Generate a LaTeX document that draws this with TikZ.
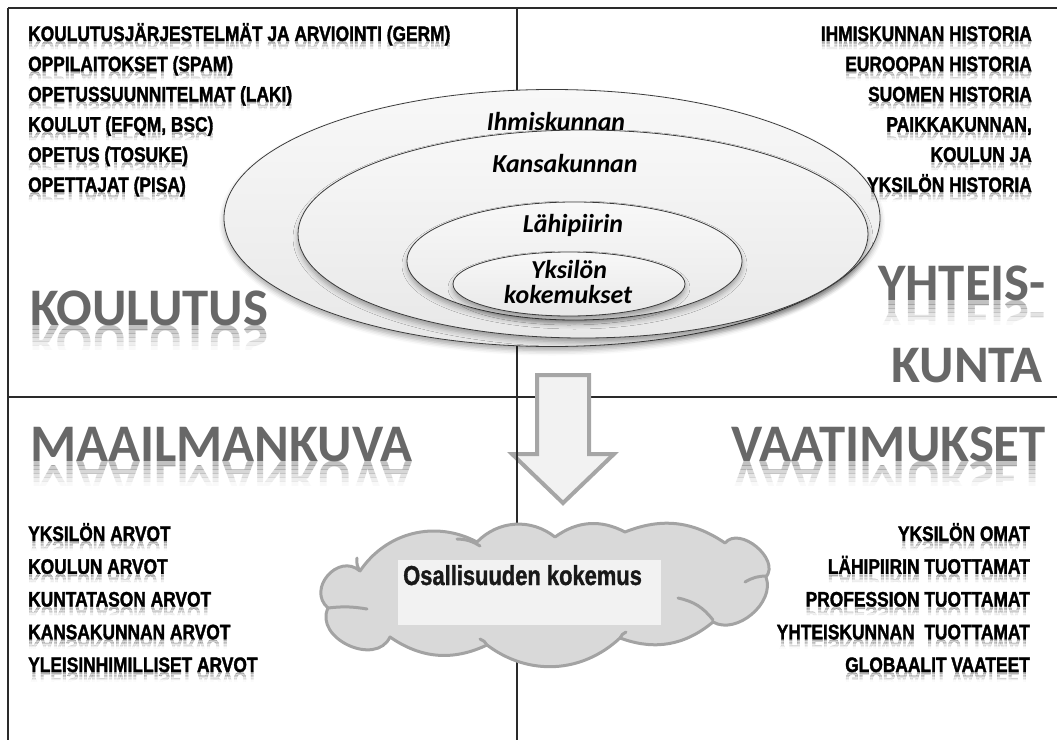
\documentclass[tikz,border=0pt]{standalone}
\usepackage{fontspec}
\newfontfamily\listfont{Liberation Sans Bold}[FakeStretch=0.83, FakeBold=1.6]
\newfontfamily\cloudfont{Liberation Sans Bold}[FakeStretch=0.80, FakeBold=1.2]
\newfontfamily\headfont{Carlito Bold}
\newfontfamily\ringfont{Carlito Bold Italic}
\usetikzlibrary{shapes.geometric, shadows.blur}

\definecolor{framec}{HTML}{2A2A2A}
\definecolor{headgray}{HTML}{686868}
\definecolor{arrowedge}{HTML}{A6A6A6}
\definecolor{arrowfill}{HTML}{F2F2F2}
\definecolor{cloudfill}{HTML}{D9D9D9}
\definecolor{cloudedge}{HTML}{A3A3A3}
\definecolor{boxfill}{HTML}{F2F2F2}
\definecolor{ringedge}{HTML}{3C3C3C}
\definecolor{ringtop}{HTML}{F8F8F8}
\definecolor{ringbottom}{HTML}{E8E8E8}

% mirrored copy under a line of text, fading out in six bands
% #1 name, #2 x, #3 baseline y, #4 anchor, #5 style, #6 depth, #7 peak opacity, #8 text
\newcommand\mirrorline[8]{%
  \foreach \k in {0,...,5}{%
    \pgfmathsetmacro\bandop{#7*(1-(\k+0.5)/6)}%
    \begin{scope}
      \clip (#2-620,#3+\k*#6/6) rectangle (#2+620,#3+\k*#6/6+#6/6);
      \node[#5, anchor=#4, yscale=-1, transform shape, opacity=\bandop] (#1-\k) at (#2,#3) {#8};
    \end{scope}
  }}

\tikzset{
  frame/.style={draw=framec, line width=1.5bp},
  listtxt/.style={font=\listfont\fontsize{21}{25}\selectfont, inner sep=0pt, text=black},
  listrefl/.style={listtxt, text=black!70},
  headtxt/.style={font=\headfont\fontsize{53}{60}\selectfont, inner sep=0pt, text=headgray},
  headrefl/.style={headtxt, text=headgray},
  ring/.style={ellipse, draw=ringedge, line width=0.8bp, inner sep=0pt,
    top color=ringtop, bottom color=ringbottom,
    blur shadow={shadow xshift=0bp, shadow yshift=-4bp, shadow blur radius=5bp, shadow opacity=35}},
  ringlabel/.style={font=\ringfont\fontsize{26}{30}\selectfont, inner sep=0pt, text=black},
  blockarrow/.style={draw=arrowedge, fill=arrowfill, line width=4bp, line join=miter},
  cloudshape/.style={draw=cloudedge, fill=cloudfill, line width=3bp, line join=round},
  cloudarc/.style={draw=cloudedge, line width=3bp, line cap=round},
  cloudtxt/.style={font=\cloudfont\fontsize{27.5}{32}\selectfont, inner sep=0pt, text=black!90},
}

\begin{document}
\begin{tikzpicture}[x=1bp, y=-1bp]
\useasboundingbox (0,0) rectangle (1057,740);

% quadrant frame
\draw[frame] (8,8) -- (1057,8);
\draw[frame] (8,8) -- (8,740);
\draw[frame] (8,397) -- (1057,397);

% block arrow pointing down into the cloud
\draw[blockarrow] (537,375) -- (589,375) -- (589,454) -- (614,454) -- (563,503)
  -- (512,454) -- (537,454) -- cycle;

% central divider
\draw[frame] (517,8) -- (517,740);

% nested circles of experience
\node[ring, minimum width=656bp, minimum height=257bp] (humankind) at (552,218) {};
\node[ring, minimum width=570bp, minimum height=208bp] (nation) at (583,234) {};
\node[ring, minimum width=335bp, minimum height=118bp] (near) at (574.5,261) {};
\node[ring, minimum width=232bp, minimum height=64bp] (self) at (569,284) {};

\node[ringlabel, anchor=base] (humankindlbl) at (556,130) {Ihmiskunnan};
\node[ringlabel, anchor=base] (nationlbl) at (565,172) {Kansakunnan};
\node[ringlabel, anchor=base] (nearlbl) at (573,232) {Lähipiirin};
\node[ringlabel, anchor=base] (selflbl1) at (569,278) {Yksilön};
\node[ringlabel, anchor=base] (selflbl2) at (568,303) {kokemukset};

% cloud
\draw[cloudshape] (328,608) to[bend left=90, looseness=1.5] (360,571)
  to[bend left=42] (477,542)
  to[bend left=42] (555,537)
  to[bend left=32] (625,532)
  to[bend left=28] (725,543)
  to[bend left=90, looseness=1.1] (766,577)
  to[bend left=70] (713,622)
  to[bend left=30] (620,638)
  to[bend left=40] (487,645)
  to[bend left=30] (390,637)
  to[bend left=90, looseness=1.25] (328,608) -- cycle;
\draw[cloudarc] (328,608) to[bend left=8] (367,609);
\draw[cloudarc] (360,571) to[bend left=20] (357,558);
\draw[cloudarc] (457,539) to[bend left=15] (480,546);
\draw[cloudarc] (745,582) to[bend left=15] (767,576);
\draw[cloudarc] (678,598) to[bend left=20] (713,620);
\draw[cloudarc] (620,638) to[bend left=20] (626,632);
\draw[cloudarc] (487,645) to[bend right=20] (480,639);

\node[fill=boxfill, minimum width=263bp, minimum height=65bp, inner sep=0pt] (cbox) at (529.5,592.5) {};
\node[cloudtxt, anchor=base west] (ctext) at (403,585) {Osallisuuden kokemus};

% quadrant titles
\mirrorline{koulutusr}{30}{325}{base west}{headrefl}{24}{0.45}{KOULUTUS}
\node[headtxt, anchor=base west] (koulutus) at (30,325) {KOULUTUS};
\mirrorline{maailmar}{30}{461}{base west}{headrefl}{24}{0.45}{MAAILMANKUVA}
\node[headtxt, anchor=base west] (maailma) at (30,461) {MAAILMANKUVA};
\mirrorline{yhteisr}{1046}{300}{base east}{headrefl}{24}{0.45}{YHTEIS-}
\node[headtxt, anchor=base east] (yhteis) at (1046,300) {YHTEIS-};
\node[headtxt, anchor=base east] (kunta) at (1043,382) {KUNTA};
\mirrorline{vaatir}{1046}{461}{base east}{headrefl}{24}{0.45}{VAATIMUKSET}
\node[headtxt, anchor=base east] (vaati) at (1046,461) {VAATIMUKSET};

% lists
\foreach \txt [count=\i] in {KOULUTUSJÄRJESTELMÄT JA ARVIOINTI (GERM), OPPILAITOKSET (SPAM),
    OPETUSSUUNNITELMAT (LAKI), {KOULUT (EFQM, BSC)}, OPETUS (TOSUKE), OPETTAJAT (PISA)} {
  \pgfmathsetmacro\yy{41+30.2*(\i-1)}
  \mirrorline{tlr\i}{28}{\yy}{base west}{listrefl}{9}{0.3}{\txt}
  \node[listtxt, anchor=base west] (tl\i) at (28,\yy) {\txt};
}
\foreach \txt [count=\i] in {IHMISKUNNAN HISTORIA, EUROOPAN HISTORIA, SUOMEN HISTORIA,
    {PAIKKAKUNNAN,}, KOULUN JA, YKSILÖN HISTORIA} {
  \pgfmathsetmacro\yy{41+30.2*(\i-1)}
  \mirrorline{trr\i}{1032}{\yy}{base east}{listrefl}{9}{0.3}{\txt}
  \node[listtxt, anchor=base east] (tr\i) at (1032,\yy) {\txt};
}
\foreach \txt [count=\i] in {YKSILÖN ARVOT, KOULUN ARVOT, KUNTATASON ARVOT,
    KANSAKUNNAN ARVOT, YLEISINHIMILLISET ARVOT} {
  \pgfmathsetmacro\yy{541+32.75*(\i-1)}
  \mirrorline{blr\i}{28}{\yy}{base west}{listrefl}{9}{0.3}{\txt}
  \node[listtxt, anchor=base west] (bl\i) at (28,\yy) {\txt};
}
\foreach \txt [count=\i] in {YKSILÖN OMAT, LÄHIPIIRIN TUOTTAMAT, PROFESSION TUOTTAMAT,
    YHTEISKUNNAN~ TUOTTAMAT, GLOBAALIT VAATEET} {
  \pgfmathsetmacro\yy{541+32.75*(\i-1)}
  \mirrorline{brr\i}{1030}{\yy}{base east}{listrefl}{9}{0.3}{\txt}
  \node[listtxt, anchor=base east] (br\i) at (1030,\yy) {\txt};
}
\end{tikzpicture}
\end{document}
